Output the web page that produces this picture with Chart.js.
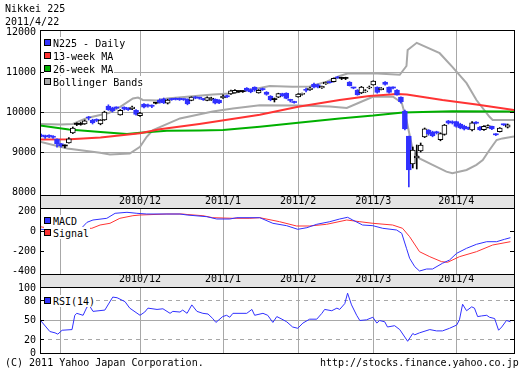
<!DOCTYPE html>
<html><head><meta charset="utf-8">
<script src="https://cdn.jsdelivr.net/npm/chart.js@4"></script>
<style>
html,body{margin:0;padding:0;background:#fff;width:523px;height:371px;overflow:hidden;}
#wrap{position:relative;width:523px;height:371px;font-family:'DejaVu Sans Mono',monospace;font-size:10px;line-height:13px;color:#000;}
canvas{position:absolute;left:0;top:0;}
.t{position:absolute;white-space:pre;}
.lg{position:absolute;left:44px;background:#fff;white-space:pre;height:12px;line-height:13px;padding-right:1px;}
.lg i{display:inline-block;width:5px;height:5px;border:1px solid #000;margin-right:2px;vertical-align:top;margin-top:2px;}
</style></head>
<body>
<div id="wrap">
<canvas id="cMain" width="523" height="371"></canvas>
<canvas id="cMacd" width="523" height="371"></canvas>
<canvas id="cRsi" width="523" height="371"></canvas>
<div class="t" style="left:5px;top:2px">Nikkei 225</div>
<div class="t" style="left:5px;top:15px">2011/4/22</div>
<div class="lg" style="top:37px"><i style="background:#3333ff"></i>N225 - Daily</div>
<div class="lg" style="top:50px"><i style="background:#ff3333"></i>13-week MA</div>
<div class="lg" style="top:63px"><i style="background:#00b000"></i>26-week MA</div>
<div class="lg" style="top:76px"><i style="background:#a8a8a8"></i>Bollinger Bands</div>
<div class="lg" style="top:215px"><i style="background:#3333ff"></i>MACD</div>
<div class="lg" style="top:227px"><i style="background:#ff3333"></i>Signal</div>
<div class="lg" style="top:295px"><i style="background:#3333ff"></i>RSI(14)</div>
<div class="t" style="left:5px;top:356px">(C) 2011 Yahoo Japan Corporation.</div>
<div class="t" style="left:320px;top:356px">http://stocks.finance.yahoo.co.jp</div>
</div>
<script>
// ---- data ----
const monthTickPos = [5, 25, 46, 65, 84, 105];
const monthTickLabels = ['', '2010/12', '2011/1', '2011/2', '2011/3', '2011/4'];
const priceTicks = [8000, 9000, 10000, 11000, 12000];
const macdTicks = [200, 0, -200, -400];
const rsiTicks = [0, 20, 50, 80, 100];

const candleO = [9430,9385,9420,9400,9320,9210,9150,9230,9480,9690,9690,9700,9880,9800,9800,9700,9800,10150,10100,10110,
9930,10120,10100,10080,10040,9910,10200,10180,10170,10220,10300,10330,10220,10320,10330,10340,10320,10320,10290,10380,
10350,10320,10290,10300,10320,10300,10350,10410,10450,10480,10510,10510,10600,10560,10620,10480,10570,10500,10400,10310,
10370,10460,10470,10300,10250,10380,10440,10560,10560,10700,10680,10600,10700,10740,10760,10880,10840,10840,10750,10610,
10550,10480,10500,10600,10680,10620,10560,10750,10620,10610,10550,10370,10025,9400,8700,8850,9025,9380,9550,9500,
9490,9310,9440,9780,9740,9760,9700,9650,9600,9550,9725,9620,9560,9620,9640,9440,9510,9690,9620];
const candleH = [9450,9420,9430,9410,9330,9215,9180,9360,9625,9730,9740,9800,9890,9820,9830,9810,10020,10180,10120,10130,
10060,10130,10110,10150,10060,9990,10210,10200,10180,10240,10330,10350,10320,10340,10350,10350,10330,10330,10380,10390,
10370,10340,10380,10370,10330,10310,10430,10420,10550,10560,10530,10530,10610,10580,10630,10560,10600,10510,10410,10350,
10470,10470,10480,10320,10270,10460,10470,10600,10620,10725,10700,10650,10750,10760,10850,10890,10870,10870,10760,10620,
10560,10640,10560,10650,10780,10630,10610,10760,10630,10630,10560,10380,10050,9400,9125,9175,9225,9600,9560,9520,
9520,9480,9690,9790,9780,9770,9720,9670,9620,9760,9760,9640,9660,9680,9650,9460,9610,9700,9700];
const candleL = [9380,9340,9360,9340,9120,9120,9100,9220,9460,9660,9670,9690,9800,9700,9760,9680,9790,10040,10000,10080,
9920,10050,10040,10060,9920,9890,10100,10120,10110,10200,10220,10210,10200,10290,10300,10290,10290,10180,10280,10330,
10320,10290,10280,10290,10200,10210,10340,10360,10440,10470,10490,10490,10520,10480,10520,10470,10540,10420,10280,10250,
10360,10390,10330,10250,10220,10370,10420,10500,10540,10600,10600,10590,10690,10720,10750,10840,10810,10810,10650,10580,
10420,10460,10490,10580,10670,10470,10550,10670,10470,10580,10420,10220,9550,8125,8600,8575,9000,9360,9420,9380,
9450,9280,9420,9700,9700,9620,9580,9550,9560,9530,9700,9540,9540,9600,9560,9410,9500,9660,9600];
const candleC = [9401,9377,9387,9366,9202,9154,9155,9330,9600,9700,9694,9780,9850,9724,9790,9797,10000,10060,10030,10100,
10040,10070,10060,10125,9937,9975,10120,10150,10140,10225,10240,10230,10300,10310,10316,10300,10311,10200,10370,10346,
10346,10310,10360,10350,10220,10228,10400,10380,10530,10541,10512,10512,10540,10500,10560,10540,10560,10437,10300,10320,
10460,10400,10340,10290,10237,10450,10457,10540,10600,10620,10620,10640,10740,10735,10840,10850,10845,10842,10660,10600,
10430,10620,10530,10625,10770,10490,10600,10690,10490,10600,10430,10260,9575,8550,9050,8900,9175,9580,9450,9400,
9480,9460,9670,9720,9730,9640,9600,9570,9590,9730,9720,9550,9640,9660,9580,9430,9600,9680,9680];

const ma13X = [-0.3, 7.3, 15, 25, 30, 40, 55.3, 65, 75.5, 83, 90, 92.5, 101.5, 110.1, 119.6];
const ma13Y = [9310, 9320, 9360, 9470, 9570, 9700, 9930, 10130, 10300, 10400, 10450, 10440, 10300, 10190, 10050];
const ma26X = [-0.3, 7, 15, 21.7, 25, 31.8, 40, 46, 55.3, 65, 75.5, 84, 91.5, 104, 119.6];
const ma26Y = [9660, 9560, 9500, 9450, 9480, 9530, 9535, 9550, 9630, 9730, 9840, 9910, 9990, 10020, 10010];
const bbUpX = [-0.3, 5, 8, 11.6, 17.1, 20, 23.2, 24.5, 25.7, 29.3, 31.8, 36.9, 43.4, 47.7, 55.3, 57.8, 63.6, 67.9, 72.2, 75.5,
  77.5, 85, 90.7, 92.4, 92.7, 95, 100.8, 104, 107.6, 110.1, 113.4, 114.2, 119.6];
const bbUpY = [9700, 9690, 9700, 9850, 9975, 10130, 10340, 10360, 10300, 10290, 10340, 10380, 10440, 10460, 10600, 10650, 10630, 10640, 10760, 10900,
  10960, 10960, 10930, 11150, 11550, 11730, 11470, 11130, 10720, 10300, 9880, 9800, 9800];
const bbLoX = [-0.3, 6.6, 14.9, 17.4, 22.4, 25, 26.7, 28.3, 35.1, 43.4, 48.5, 55.3, 65, 73, 77.3, 82, 83.9, 89, 91.2, 92.4,
  94, 95.7, 99, 102.5, 104, 107.6, 110.1, 111.7, 113.4, 115.2, 116.7, 119.6];
const bbLoY = [9260, 9090, 8980, 8940, 8960, 9130, 9380, 9550, 9840, 10010, 10090, 10170, 10160, 10140, 10100, 10300, 10380, 10380, 10230, 9800,
  9050, 8840, 8680, 8510, 8470, 8550, 8680, 8800, 9050, 9300, 9340, 9390];

const macdX = [-0.3, 1.0, 10.3, 11.6, 13.1, 16.6, 18.7, 21.7, 24.2, 26.7, 35.1, 36.9, 41.9, 44.4, 47.7, 49.5, 55.3, 58.6, 62.1, 64.9,
  67.2, 69.7, 73.0, 75.5, 77.5, 78.8, 81.3, 83.9, 86.4, 89.9, 91.2, 92.4, 93.2, 94.5, 95.7, 97.5, 99.0, 101.5, 103.3, 105.1,
  107.6, 110.1, 112.7, 115.2, 117.2, 118.7];
const macdY = [22, 20, 38, 92, 115, 132, 182, 192, 182, 175, 175, 165, 148, 125, 125, 138, 138, 82, 58, 22,
  38, 72, 98, 125, 142, 115, 65, 58, 32, 15, -18, -168, -268, -352, -395, -375, -375, -318, -285, -218,
  -168, -128, -102, -102, -78, -62];
const signalX = [-0.3, 2.2, 12.8, 14.9, 17.4, 19.9, 23.2, 25.0, 31.8, 35.8, 36.9, 40.9, 43.4, 48.5, 52.8, 55.3, 60.3, 64.6, 67.9, 72.2,
  77.3, 80.6, 83.9, 88.9, 91.4, 93.2, 95.7, 98.3, 101.3, 102.8, 105.8, 110.1, 114.2, 118.7];
const signalY = [48, 32, 32, 65, 82, 132, 158, 165, 175, 175, 170, 158, 138, 132, 132, 138, 98, 55, 55, 72,
  115, 98, 82, 65, 32, -52, -202, -252, -302, -308, -252, -202, -135, -102];

const rsiX = [-0.3, 2.2, 3.5, 4.2, 5.3, 7.8, 8.5, 9.0, 10.6, 11.6, 12.3, 13.1, 16.1, 18.1, 19.2, 21.2, 22.4, 25.0, 26.2, 27.0,
  29.3, 30.8, 32.6, 33.3, 35.1, 35.8, 36.9, 38.1, 39.4, 40.9, 42.2, 43.4, 44.2, 45.9, 46.9, 47.7, 48.5, 52.0, 53.3, 54.0,
  56.1, 57.3, 58.6, 59.6, 60.9, 62.1, 63.6, 64.9, 66.2, 67.9, 69.7, 71.0, 71.7, 73.5, 74.8, 75.5, 76.8, 77.5, 78.5, 79.8,
  80.6, 82.3, 83.9, 84.9, 85.6, 86.9, 87.6, 89.4, 90.7, 92.7, 94.0, 94.5, 95.7, 98.3, 100.0, 101.5, 103.3, 105.1, 105.8, 106.6,
  107.6, 108.9, 109.6, 110.4, 111.4, 112.7, 113.4, 114.7, 115.7, 116.5, 117.7, 118.7];
const rsiY = [51, 33, 31, 29, 35, 36, 58, 61, 58, 71, 72, 64, 66, 86, 85, 79, 69, 58, 63, 69,
  67, 68, 61, 64, 63, 66, 61, 74, 64, 61, 60, 53, 47, 56, 58, 55, 61, 61, 67, 58,
  61, 58, 47, 56, 52, 48, 40, 38, 46, 52, 52, 61, 67, 65, 69, 67, 76, 92, 74, 58,
  50, 51, 55, 46, 50, 48, 40, 42, 36, 18, 30, 28, 31, 36, 34, 34, 38, 43, 51, 75,
  65, 71, 69, 56, 57, 58, 55, 53, 35, 40, 50, 48];

// ---- styling ----
const BLUE = '#3030ff', RED = '#ff3333', GREEN = '#00b000', GRAY = '#a8a8a8', GRID = '#a8a8a8';
Chart.defaults.font = { family: "'DejaVu Sans Mono', monospace", size: 10 };
Chart.defaults.color = '#000';

const xy = (xs, ys) => xs.map((x, k) => ({ x, y: ys[k] }));
const days = candleO.map((_, i) => i);
const isDown = i => candleC[i] < candleO[i];
const isCross = i => Math.abs(candleC[i] - candleO[i]) < 15;

const panelPlugin = {
  id: 'panel',
  beforeDraw(chart, args, o) {
    const a = chart.chartArea, ctx = chart.ctx;
    if (o.band) { ctx.save(); ctx.fillStyle = '#e4e4e4'; ctx.fillRect(a.left, a.bottom, a.right - a.left, o.band); ctx.restore(); }
  },
  beforeDatasetsDraw(chart, args, o) {
    if (!o.hlines) return;
    const a = chart.chartArea, ctx = chart.ctx, ys = chart.scales.y;
    ctx.save();
    ctx.strokeStyle = GRID; ctx.lineWidth = 1;
    o.hlines.forEach(h => {
      const p = Math.round(ys.getPixelForValue(h.v) - 0.5) + 0.5;
      ctx.setLineDash(h.dash ? [4, 4] : []);
      ctx.beginPath(); ctx.moveTo(a.left, p); ctx.lineTo(a.right, p); ctx.stroke();
    });
    ctx.restore();
  },
  afterDraw(chart, args, o) {
    const a = chart.chartArea, ctx = chart.ctx, ys = chart.scales.y;
    ctx.save();
    ctx.fillStyle = '#000';
    (o.marks || []).forEach(v => {
      const p = Math.round(ys.getPixelForValue(v) - 0.5);
      ctx.fillRect(a.left, p, 4, 1);
      ctx.fillRect(a.right - 4, p, 4, 1);
    });
    const L = Math.round(a.left), R = Math.round(a.right), T = Math.round(a.top), B = Math.round(a.bottom);
    const BB = B + (o.band || 0);
    ctx.fillRect(L, T, R - L + 1, 1);
    ctx.fillRect(L, B, R - L + 1, 1);
    ctx.fillRect(L, BB, R - L + 1, 1);
    ctx.fillRect(L, T, 1, BB - T + 1);
    ctx.fillRect(R, T, 1, BB - T + 1);
    ctx.restore();
  }
};

function xScale(showLabels, pad, h) {
  return {
    type: 'linear', min: -0.3, max: 119.6, position: 'bottom', offset: false,
    afterFit(s) { s.height = h; },
    afterBuildTicks(s) { s.ticks = monthTickPos.map(v => ({ value: v })); },
    ticks: { display: showLabels, autoSkip: false, maxRotation: 0, minRotation: 0, padding: pad,
      callback: (v, i) => monthTickLabels[i] },
    grid: { color: GRID, drawTicks: false, offset: false, lineWidth: 1 },
    border: { display: false }
  };
}
function yScale(min, max, ticks, gridFn) {
  return {
    type: 'linear', min, max, position: 'left',
    afterFit(s) { s.width = 40; },
    afterBuildTicks(s) { s.ticks = ticks.map(v => ({ value: v })); },
    ticks: { padding: 4, autoSkip: false, callback: v => String(v) },
    grid: gridFn ? { color: gridFn, drawTicks: false, lineWidth: 1 } : { display: false, drawTicks: false },
    border: { display: false }
  };
}
const common = {
  responsive: false, animation: false, events: [],
  plugins: { legend: { display: false }, tooltip: { enabled: false } }
};

// ---- main price panel ----
new Chart(document.getElementById('cMain'), {
  type: 'bar',
  data: {
    datasets: [
      { label: 'body', data: days.map(i => ({ x: i, y: [Math.min(candleO[i], candleC[i]), Math.max(candleO[i], candleC[i])] })),
        grouped: false, barThickness: 5, minBarLength: 1, borderSkipped: false,
        backgroundColor: days.map(i => isDown(i) ? BLUE : (isCross(i) ? '#000' : '#fff')),
        borderColor: days.map(i => isDown(i) ? BLUE : '#000'),
        borderWidth: days.map(i => isCross(i) ? 0 : 1) },
      { label: 'wick', data: days.map(i => ({ x: i, y: [candleL[i], candleH[i]] })),
        grouped: false, barThickness: 1, borderWidth: 0,
        backgroundColor: days.map(i => isDown(i) ? BLUE : '#000') },
      { type: 'line', label: '13-week MA', data: xy(ma13X, ma13Y), borderColor: RED, borderWidth: 2, pointRadius: 0, tension: 0 },
      { type: 'line', label: '26-week MA', data: xy(ma26X, ma26Y), borderColor: GREEN, borderWidth: 2, pointRadius: 0, tension: 0 },
      { type: 'line', label: 'BB upper', data: xy(bbUpX, bbUpY), borderColor: GRAY, borderWidth: 2, pointRadius: 0, tension: 0 },
      { type: 'line', label: 'BB lower', data: xy(bbLoX, bbLoY), borderColor: GRAY, borderWidth: 2, pointRadius: 0, tension: 0 }
    ]
  },
  options: Object.assign({}, common, {
    layout: { padding: { left: 0, top: 30, right: 9, bottom: 163 } },
    scales: {
      x: xScale(true, 0, 13),
      y: yScale(7925, 12050, priceTicks, ctx => (ctx.tick && ctx.tick.value > 8000 && ctx.tick.value < 12000) ? GRID : 'rgba(0,0,0,0)')
    },
    plugins: Object.assign({}, common.plugins, { panel: { band: 13, marks: [9000, 10000, 11000] } })
  }),
  plugins: [panelPlugin]
});

// ---- MACD panel ----
new Chart(document.getElementById('cMacd'), {
  type: 'line',
  data: {
    datasets: [
      { label: 'MACD', data: xy(macdX, macdY), borderColor: BLUE, borderWidth: 1, pointRadius: 0, tension: 0 },
      { label: 'Signal', data: xy(signalX, signalY), borderColor: RED, borderWidth: 1, pointRadius: 0, tension: 0 }
    ]
  },
  options: Object.assign({}, common, {
    layout: { padding: { left: 0, top: 208, right: 9, bottom: 84 } },
    scales: { x: xScale(true, -1, 13), y: yScale(-425, 235, macdTicks, null) },
    plugins: Object.assign({}, common.plugins, { panel: { band: 13, marks: [0, -200] } })
  }),
  plugins: [panelPlugin]
});

// ---- RSI panel ----
new Chart(document.getElementById('cRsi'), {
  type: 'line',
  data: {
    datasets: [
      { label: 'RSI(14)', data: xy(rsiX, rsiY), borderColor: BLUE, borderWidth: 1, pointRadius: 0, tension: 0 }
    ]
  },
  options: Object.assign({}, common, {
    layout: { padding: { left: 0, top: 287, right: 9, bottom: 18 } },
    scales: { x: xScale(false, 0, 0), y: yScale(0, 101.5, rsiTicks, null) },
    plugins: Object.assign({}, common.plugins, { panel: { band: 0, marks: [20, 50, 80],
      hlines: [{ v: 80, dash: true }, { v: 50, dash: false }, { v: 20, dash: true }] } })
  }),
  plugins: [panelPlugin]
});
</script>
</body></html>
